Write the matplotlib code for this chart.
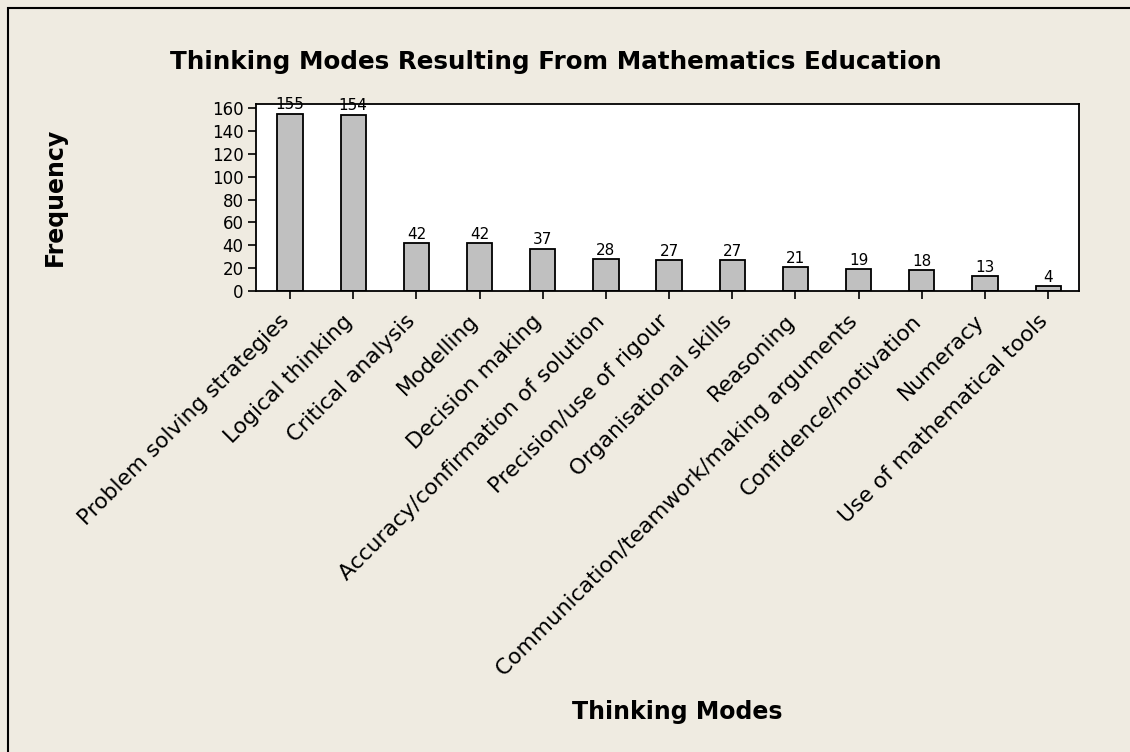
import matplotlib
matplotlib.use("Agg")
import matplotlib.pyplot as plt
from matplotlib.patches import Rectangle
from matplotlib.transforms import ScaledTranslation

# Survey counts per thinking mode
modes = [
    "Problem solving strategies",
    "Logical thinking",
    "Critical analysis",
    "Modelling",
    "Decision making",
    "Accuracy/confirmation of solution",
    "Precision/use of rigour",
    "Organisational skills",
    "Reasoning",
    "Communication/teamwork/making arguments",
    "Confidence/motivation",
    "Numeracy",
    "Use of mathematical tools",
]
counts = [155, 154, 42, 42, 37, 28, 27, 27, 21, 19, 18, 13, 4]
y_ticks = [0, 20, 40, 60, 80, 100, 120, 140, 160]

BG = "#efebe1"

plt.rcParams["font.family"] = "DejaVu Sans"

fig = plt.figure(figsize=(11.3, 7.52), dpi=100, facecolor=BG)
ax = fig.add_axes([0.2265, 0.613, 0.7285, 0.2487])
ax.set_facecolor("white")

x = list(range(len(modes)))
ax.bar(x, counts, width=0.4, color="#c0c0c0", edgecolor="black", linewidth=1.3)

for xi, v in zip(x, counts):
    ax.annotate(str(v), (xi, v), xytext=(0, 1), textcoords="offset points",
                ha="center", va="bottom", fontsize=11)

ax.set_xlim(-0.54, len(modes) - 0.51)
ax.set_ylim(0, 163.5)
ax.set_yticks(y_ticks)
ax.set_xticks(x)
ax.set_xticklabels(modes, rotation=45, ha="right", va="center",
                   rotation_mode="anchor", fontsize=15.7)
ax.tick_params(axis="both", direction="out", length=6, width=1.2, pad=3)
ax.tick_params(axis="y", labelsize=12)
ax.tick_params(axis="x", pad=12)
# nudge rotated labels so their ends sit under the ticks
shift = ScaledTranslation(-4 / 100, -2 / 100, fig.dpi_scale_trans)
for lbl in ax.get_xticklabels():
    lbl.set_transform(lbl.get_transform() + shift)
for s in ax.spines.values():
    s.set_linewidth(1.3)

fig.text(0.049, 0.738, "Frequency", rotation=90, ha="center", va="center",
         fontsize=17, fontweight="bold")
fig.text(0.599, 0.053, "Thinking Modes", ha="center", va="center",
         fontsize=17, fontweight="bold")
fig.text(0.492, 0.918, "Thinking Modes Resulting From Mathematics Education",
         ha="center", va="center", fontsize=17.7, fontweight="bold")

# frame around the whole graph window
fig.patches.append(Rectangle((7.5 / 1130, -0.05), 1.2, 1 - 7.5 / 752 + 0.05,
                             transform=fig.transFigure, fill=False,
                             edgecolor="black", linewidth=1.5))

fig.savefig("out.png", dpi=100, facecolor=BG)
